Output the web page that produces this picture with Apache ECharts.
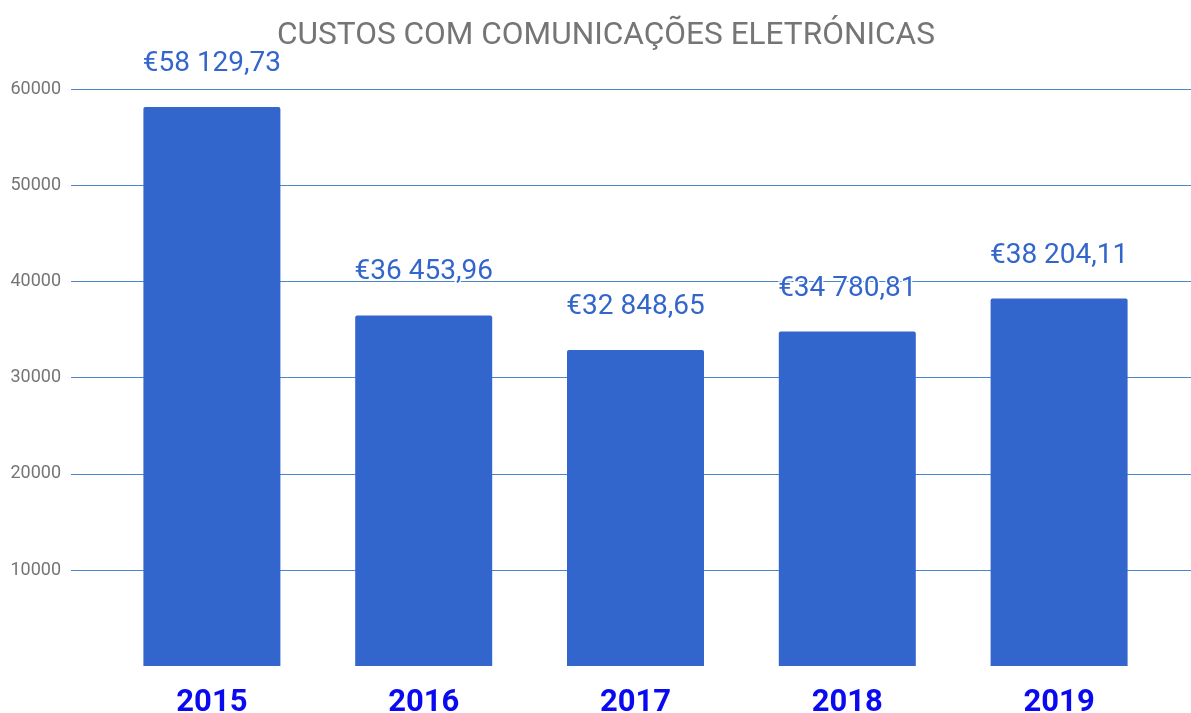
<!DOCTYPE html>
<html>
<head>
<meta charset="utf-8">
<script src="https://cdn.jsdelivr.net/npm/echarts@6/dist/echarts.min.js"></script>
<style>
  html, body { margin: 0; padding: 0; background: #fff; }
  #chart { width: 1191px; height: 713px; }
</style>
</head>
<body>
<div id="chart"></div>
<script>
var years = ['2015', '2016', '2017', '2018', '2019'];
var costs = [58129.73, 36453.96, 32848.65, 34780.81, 38204.11];

function euro(v) {
  var parts = v.toFixed(2).split('.');
  var intPart = parts[0].replace(/\B(?=(\d{3})+(?!\d))/g, ' ');
  return '€' + intPart + ',' + parts[1];
}

var chart = echarts.init(document.getElementById('chart'));
chart.setOption({
  backgroundColor: '#fff',
  animation: false,
  title: {
    text: 'CUSTOS COM COMUNICAÇÕES ELETRÓNICAS',
    left: 272,
    top: 15,
    textStyle: {
      fontFamily: 'Roboto',
      fontWeight: 'normal',
      fontSize: 31.6,
      color: '#757575'
    }
  },
  grid: [
    { left: 71, right: 0, top: 89, bottom: 143, outerBoundsMode: 'none' },
    { left: 106, right: 26, top: 89, bottom: 47, outerBoundsMode: 'none' }
  ],
  xAxis: [{
    gridIndex: 0,
    type: 'value',
    show: false
  }, {
    gridIndex: 1,
    type: 'category',
    data: years,
    axisLine: { show: false },
    axisTick: { show: false },
    axisLabel: {
      margin: 22,
      fontFamily: 'Roboto',
      fontWeight: 'bold',
      fontSize: 31,
      color: '#0a0af2'
    }
  }],
  yAxis: [{
    gridIndex: 0,
    type: 'value',
    min: 10000,
    max: 60000,
    interval: 10000,
    axisLine: { show: false },
    axisTick: { show: false },
    axisLabel: {
      margin: 10,
      fontFamily: 'Roboto',
      fontSize: 18,
      color: '#757575',
      formatter: function (v) { return String(v); }
    },
    splitLine: { lineStyle: { color: '#4a86cc', width: 1 } }
  }, {
    gridIndex: 1,
    type: 'value',
    min: 0,
    max: 60000,
    show: false,
    splitLine: { show: false }
  }],
  series: [{
    type: 'bar',
    xAxisIndex: 1,
    yAxisIndex: 1,
    data: costs,
    barWidth: 137,
    itemStyle: { color: '#3366cc', borderRadius: [2, 2, 0, 0] },
    label: {
      show: true,
      position: 'top',
      distance: 29,
      formatter: function (p) { return euro(p.value); },
      fontFamily: 'Roboto',
      fontSize: 28,
      color: '#3366cc',
      textBorderColor: '#fff',
      textBorderWidth: 3
    }
  }]
});
</script>
</body>
</html>
